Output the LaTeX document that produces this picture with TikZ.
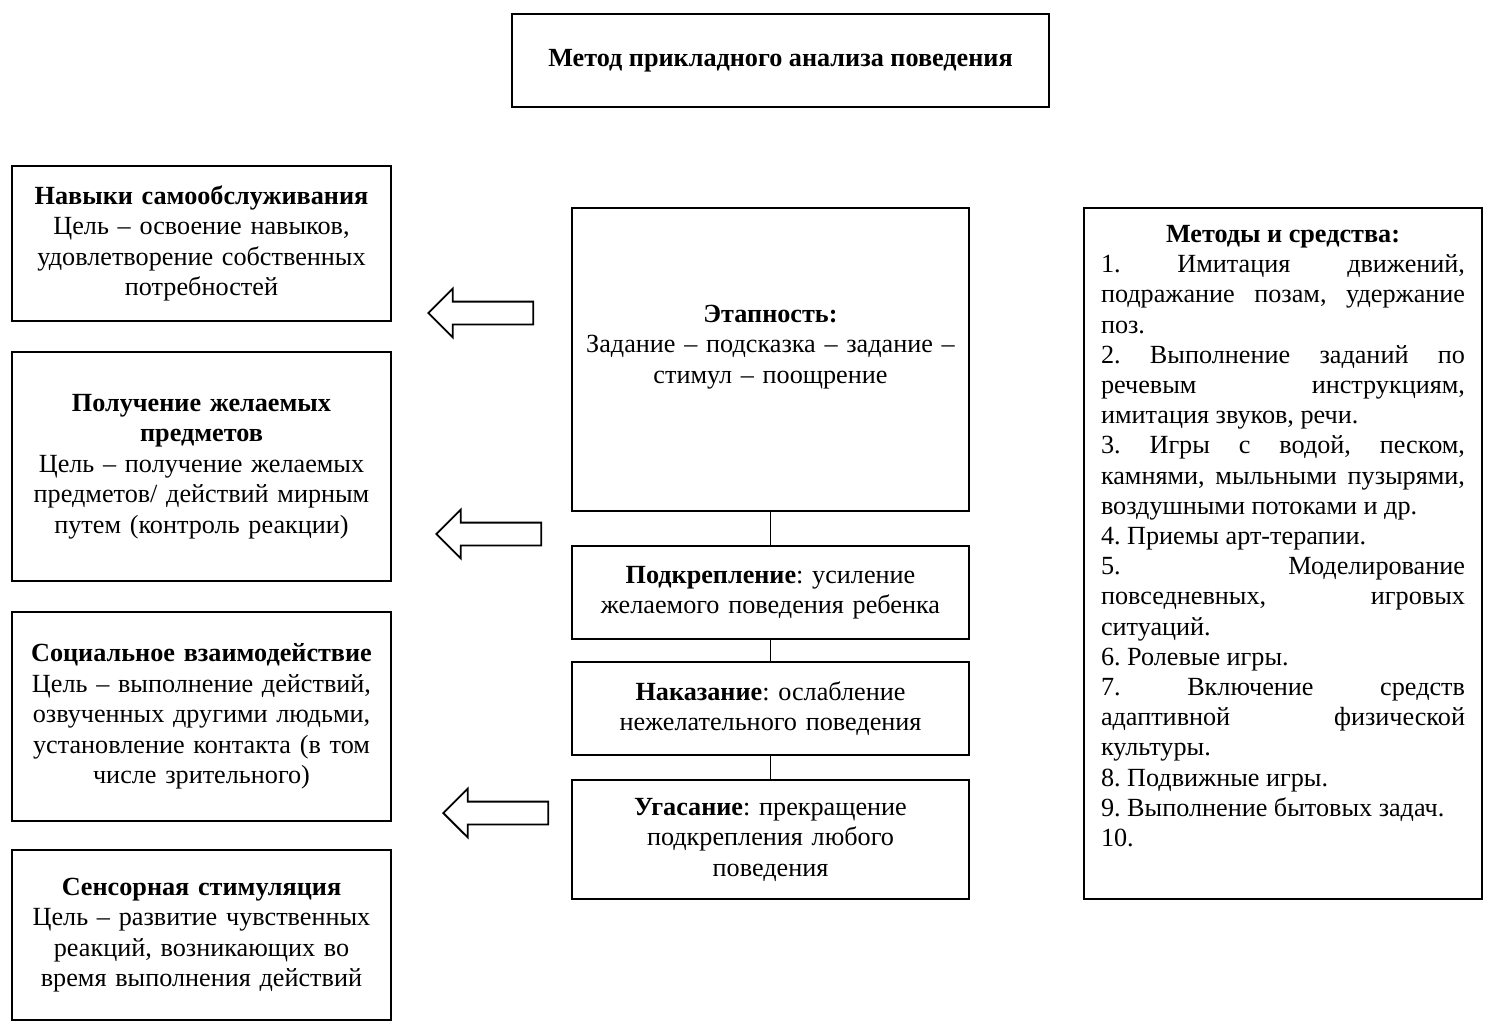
\documentclass[tikz,border=0pt]{standalone}
\usepackage{fontspec}
\setmainfont{Liberation Serif}
\usetikzlibrary{shapes.arrows}

\begin{document}
\frenchspacing
\begin{tikzpicture}[x=0.5pt,y=-0.5pt]
\tikzstyle{box}=[draw,line width=1pt,inner sep=0pt,align=center,font=\fontsize{13.1}{15.25}\selectfont]
\tikzstyle{sidebox}=[box,minimum width=189.5pt,text width=187pt]
\tikzstyle{stagebox}=[box,minimum width=198.5pt,text width=194pt]
\tikzstyle{link}=[draw,line width=0.5pt]
\tikzstyle{hollowarrow}=[draw,line width=0.9pt,single arrow,shape border rotate=180,single arrow tip angle=90,minimum height=52.5pt,single arrow head extend=6.5pt,inner xsep=0pt,inner ysep=5.25pt,anchor=tip]
\useasboundingbox (0,0) rectangle (1488,1032);
% title
\node[box,minimum width=268.5pt,minimum height=46.5pt] (title) at (780.5,60.5) {\textbf{Метод прикладного анализа поведения}};
% left column
\node[sidebox,minimum height=77.5pt] (selfcare) at (201.5,243.5) {\textbf{Навыки самообслуживания}\\Цель – освоение навыков,\\удовлетворение собственных\\потребностей};
\node[sidebox,minimum height=114.5pt] (objects) at (201.5,466.5) {\textbf{Получение желаемых}\\\textbf{предметов}\\Цель – получение желаемых\\предметов/ действий мирным\\путем (контроль реакции)};
\node[sidebox,minimum height=104.5pt] (social) at (201.5,716.5) {\textbf{Социальное взаимодействие}\\Цель – выполнение действий,\\озвученных другими людьми,\\установление контакта (в том\\числе зрительного)};
\node[sidebox,minimum height=85pt] (sensory) at (201.5,935) {\textbf{Сенсорная стимуляция}\\Цель – развитие чувственных\\реакций, возникающих во\\время выполнения действий};
% middle column
\node[stagebox,minimum height=151.5pt] (stages) at (770.5,359.5) {\textbf{Этапность:}\\Задание – подсказка – задание –\\стимул – поощрение\\\mbox{}};
\node[stagebox,minimum height=46.5pt] (reinf) at (770.5,592.5) {\textbf{Подкрепление}: усиление\\желаемого поведения ребенка};
\node[stagebox,minimum height=46.5pt] (punish) at (770.5,708.5) {\textbf{Наказание}: ослабление\\нежелательного поведения};
\node[stagebox,minimum height=59.5pt] (extinct) at (770.5,839.5) {\textbf{Угасание}: прекращение\\подкрепления любого\\поведения};
\draw[link] (stages) -- (reinf);
\draw[link] (reinf) -- (punish);
\draw[link] (punish) -- (extinct);
% arrows
\node[hollowarrow] (arr1) at (427,313) {};
\node[hollowarrow] (arr2) at (435,534) {};
\node[hollowarrow] (arr3) at (442,813) {};
% right column
\node[box,minimum width=199pt,minimum height=345.5pt] (methods) at (1283,553.5) {};
\node[anchor=north,text width=182pt,align=justify,inner sep=0pt,font=\fontsize{13.1}{15.1}\selectfont] (methodslist) at ([yshift=-9pt]methods.north) {%
\parindent=0pt\tolerance=9999
{\centering\textbf{Методы и средства:}\par}
1. Имитация движений,\linebreak подражание позам, удержание\linebreak поз.\par
2. Выполнение заданий по\linebreak речевым инструкциям,\linebreak имитация звуков, речи.\par
3. Игры с водой, песком,\linebreak камнями, мыльными пузырями,\linebreak воздушными потоками и др.\par
4. Приемы арт-терапии.\par
5. Моделирование\linebreak повседневных, игровых\linebreak ситуаций.\par
6. Ролевые игры.\par
7. Включение средств\linebreak адаптивной физической\linebreak культуры.\par
8. Подвижные игры.\par
9. Выполнение бытовых задач.\par
10.\par};
\end{tikzpicture}
\end{document}
